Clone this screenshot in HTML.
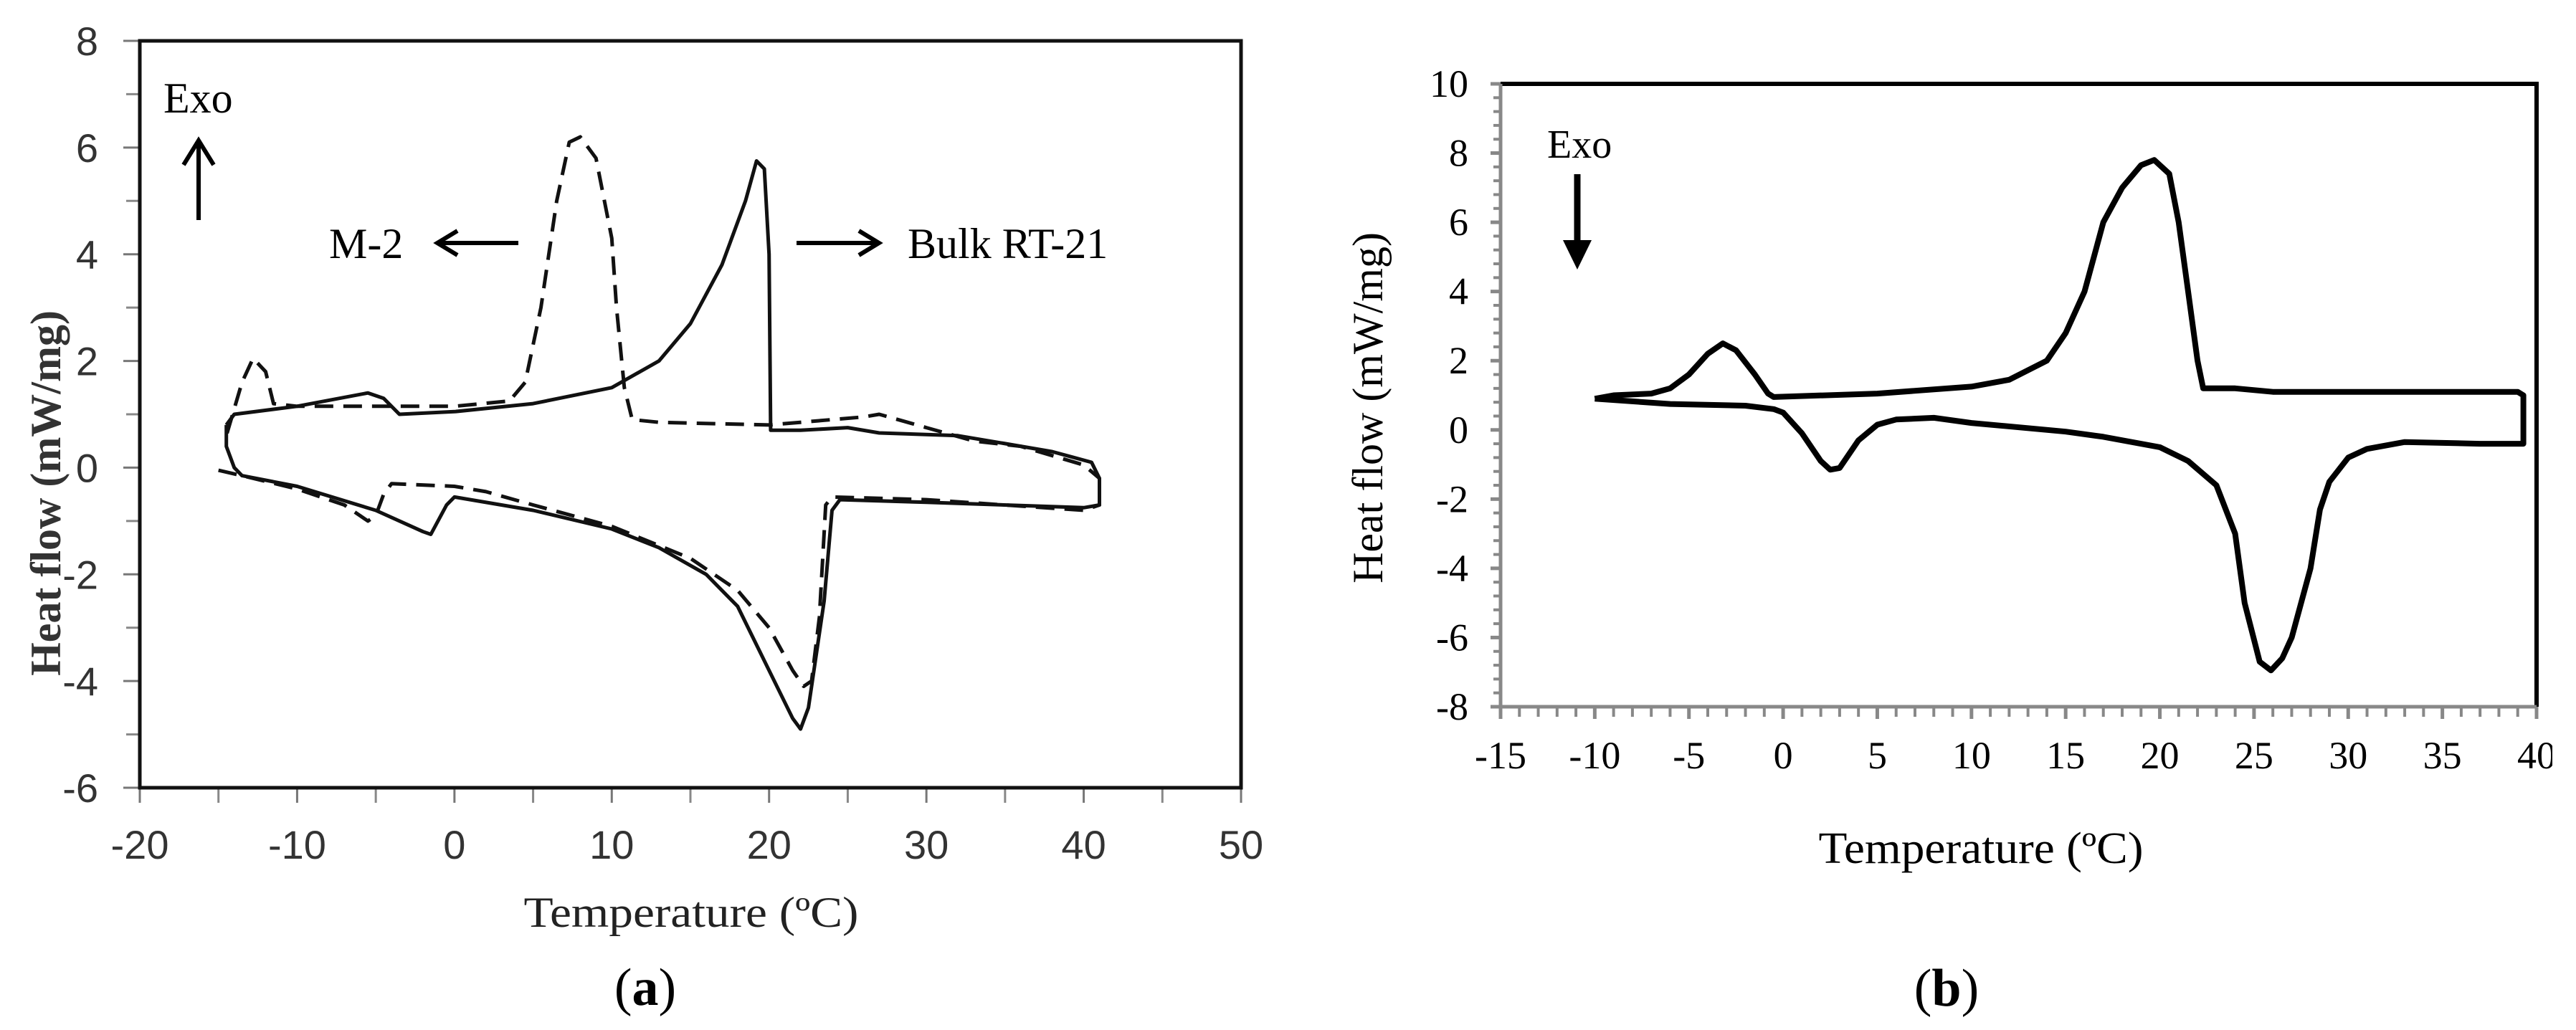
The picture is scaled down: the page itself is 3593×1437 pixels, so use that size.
<!DOCTYPE html>
<html><head><meta charset="utf-8"><style>
body{margin:0;background:#fff;}
svg{display:block;font-family:"Liberation Serif",serif;}
</style></head><body>
<svg id="fig" width="3593" height="1437" viewBox="0 0 3593 1437">
<g id="pa"></g>
<g id="pb"></g>
</svg>
<script>
// Panel (a) data
const aXTicks = [-20,-10,0,10,20,30,40,50];
const aYTicks = [-6,-4,-2,0,2,4,6,8];
const aBulkT = [-14.5,-14,-10,-5.5,-4.5,-3.5,0,5,10,13,15,17,18.5,19.2,19.7,20,20.1,22,25,27,32,35,38,40.5,41,41,40,30,24.5,24,23.5,22.5,22,21.5,20,18,16,13,10,5,0,-0.5,-1.5,-2,-5,-10,-13.5,-14,-14.5,-14.5];
const aBulkH = [0.8,1.0,1.15,1.4,1.3,1.0,1.05,1.2,1.5,2.0,2.7,3.8,5.0,5.75,5.6,4,0.7,0.7,0.75,0.65,0.6,0.45,0.3,0.1,-0.2,-0.7,-0.75,-0.65,-0.6,-0.8,-2.5,-4.5,-4.9,-4.7,-3.8,-2.6,-2.0,-1.5,-1.15,-0.8,-0.55,-0.7,-1.25,-1.2,-0.8,-0.35,-0.15,0,0.4,0.8];
const aM2T = [-15,-13.5,-10,-7,-5.5,-5,-4.5,-4,0,2,5,10,15,18,20,21.5,22.2,22.7,23.2,23.6,24,30,40,41,41,40,36,33,30,27,26,20,13,11.3,10.8,10.3,10,9,8,7.3,6.5,5.5,4.5,3.5,0,-5,-10,-11.5,-12,-12.8,-13.5,-14.5];
const aM2H = [-0.05,-0.15,-0.4,-0.7,-1.0,-0.9,-0.5,-0.3,-0.35,-0.45,-0.7,-1.1,-1.7,-2.3,-3.0,-3.8,-4.1,-4.0,-2.8,-0.7,-0.55,-0.6,-0.8,-0.7,-0.2,0.05,0.4,0.5,0.75,1.0,0.95,0.8,0.85,0.9,1.5,3,4.3,5.8,6.2,6.1,5,3,1.6,1.25,1.15,1.15,1.15,1.2,1.8,2.05,1.6,0.6];
// Panel (b) data
const bXTicks = [-15,-10,-5,0,5,10,15,20,25,30,35,40];
const bYTicks = [-8,-6,-4,-2,0,2,4,6,8,10];
const bT = [-10,-9,-7,-6,-5,-4,-3.2,-2.5,-1.5,-0.8,-0.5,5,10,12,14,15,16,17,18,19,19.7,20.5,21,21.5,22,22.3,24,26,30,39,39.3,39.3,37,33,31,30,29,28.5,28,27,26.5,25.9,25.3,24.5,24,23,21.5,20,17,15,10,8,6,5,4,3,2.5,2,1,0,-0.5,-2,-6,-10];
const bH = [0.9,1.0,1.05,1.2,1.6,2.2,2.5,2.3,1.6,1.05,0.95,1.05,1.25,1.45,2.0,2.8,4.0,6.0,7.0,7.65,7.8,7.4,6.0,4.0,2.0,1.2,1.2,1.1,1.1,1.1,1.0,-0.4,-0.4,-0.35,-0.55,-0.8,-1.5,-2.3,-4,-6.0,-6.6,-6.95,-6.7,-5.0,-3.0,-1.6,-0.9,-0.5,-0.2,-0.05,0.2,0.35,0.3,0.15,-0.3,-1.1,-1.15,-0.9,-0.1,0.5,0.6,0.7,0.75,0.9];

const NS="http://www.w3.org/2000/svg";
function mk(parent,tag,attrs,text){const e=document.createElementNS(NS,tag);for(const k in attrs)e.setAttribute(k,attrs[k]);if(text!==undefined)e.textContent=text;parent.appendChild(e);return e;}
function scale(d0,d1,r0,r1){return v=>r0+(v-d0)*(r1-r0)/(d1-d0);}
function path(xs,ys,sx,sy){return xs.map((v,i)=>(i?'L':'M')+sx(v).toFixed(1)+','+sy(ys[i]).toFixed(1)).join('');}

// ---- Panel a ----
const pa=document.getElementById('pa');
const ax=scale(-20,50,195,1731), ay=scale(8,-6,57,1099);
let e;
aYTicks.forEach(v=>{
  const t=mk(pa,'text',{x:137,y:ay(v)+20,'text-anchor':'end','font-size':56,fill:'#333','font-family':'Liberation Sans, sans-serif'},String(v));
  
  
  mk(pa,'line',{x1:172,x2:195,y1:ay(v),y2:ay(v),stroke:'#777','stroke-width':3});
  if(v<8) mk(pa,'line',{x1:176,x2:195,y1:ay(v+1),y2:ay(v+1),stroke:'#888','stroke-width':3});
});
aXTicks.forEach(v=>{
  const t=mk(pa,'text',{x:ax(v),y:1198,'text-anchor':'middle','font-size':56,fill:'#333','font-family':'Liberation Sans, sans-serif'},String(v));
  
  
  mk(pa,'line',{x1:ax(v),x2:ax(v),y1:1099,y2:1120,stroke:'#777','stroke-width':3});
  if(v<50) mk(pa,'line',{x1:ax(v+5),x2:ax(v+5),y1:1099,y2:1120,stroke:'#888','stroke-width':3});
});
e=mk(pa,'rect',{x:195,y:57,width:1536,height:1042,fill:'none',stroke:'#111','stroke-width':5});


e=mk(pa,'path',{d:path(aM2T,aM2H,ax,ay),fill:'none',stroke:'#111','stroke-width':5,'stroke-dasharray':'26 14','stroke-linejoin':'round'});


e=mk(pa,'path',{d:path(aBulkT,aBulkH,ax,ay),fill:'none',stroke:'#111','stroke-width':5,'stroke-linejoin':'round'});


e=mk(pa,'text',{x:228,y:157,'font-size':60},'Exo');


mk(pa,'line',{x1:277,x2:277,y1:198,y2:307,stroke:'#000','stroke-width':6});
mk(pa,'path',{d:'M256,230 L277,196 L298,230',fill:'none',stroke:'#000','stroke-width':6});
e=mk(pa,'text',{x:459,y:360,'font-size':60},'M-2');


mk(pa,'line',{x1:723,x2:610,y1:339,y2:339,stroke:'#000','stroke-width':6});
mk(pa,'path',{d:'M638,322 L610,339 L638,356',fill:'none',stroke:'#000','stroke-width':6});
mk(pa,'line',{x1:1111,x2:1226,y1:339,y2:339,stroke:'#000','stroke-width':6});
mk(pa,'path',{d:'M1198,322 L1226,339 L1198,356',fill:'none',stroke:'#000','stroke-width':6});
e=mk(pa,'text',{x:1266,y:360,'font-size':60},'Bulk RT-21');


e=mk(pa,'text',{x:964,y:1293,'text-anchor':'middle','font-size':60,fill:'#222',textLength:467,lengthAdjust:'spacingAndGlyphs'},'Temperature (ºC)');


e=mk(pa,'text',{x:0,y:0,'text-anchor':'middle','font-size':60,'font-weight':'bold',fill:'#333',transform:'translate(84,688) rotate(-90)'},'Heat flow (mW/mg)');


e=mk(pa,'text',{x:900,y:1402,'text-anchor':'middle','font-size':74},'');
mk(e,'tspan',{},'(');mk(e,'tspan',{'font-weight':'bold'},'a');mk(e,'tspan',{},')');



// ---- Panel b ----
const pb=document.getElementById('pb');
const bx=scale(-15,40,2093,3538), by=scale(10,-8,117,986);
bYTicks.forEach(v=>{
  const t=mk(pb,'text',{x:2048,y:by(v)+18,'text-anchor':'end','font-size':54},String(v));
  
  
  mk(pb,'line',{x1:2079,x2:2093,y1:by(v),y2:by(v),stroke:'#888','stroke-width':5});
  if(v<10) for(let k=1;k<5;k++) mk(pb,'line',{x1:2083,x2:2093,y1:by(v+k*0.4),y2:by(v+k*0.4),stroke:'#888','stroke-width':4});
});
bXTicks.forEach(v=>{
  const t=mk(pb,'text',{x:bx(v),y:1072,'text-anchor':'middle','font-size':54},String(v));
  
  
  mk(pb,'line',{x1:bx(v),x2:bx(v),y1:986,y2:1003,stroke:'#888','stroke-width':5});
  if(v<40) for(let k=1;k<5;k++) mk(pb,'line',{x1:bx(v+k),x2:bx(v+k),y1:986,y2:1000,stroke:'#888','stroke-width':4});
});
mk(pb,'rect',{x:3560,y:1020,width:40,height:70,fill:'#fff'});
mk(pb,'path',{d:'M2093,117 L3538,117 L3538,986',fill:'none',stroke:'#000','stroke-width':6});
e=mk(pb,'path',{d:'M2093,117 L2093,986 L3538,986',fill:'none',stroke:'#888','stroke-width':5});


e=mk(pb,'path',{d:path(bT,bH,bx,by),fill:'none',stroke:'#000','stroke-width':8,'stroke-linejoin':'round'});


e=mk(pb,'text',{x:2158,y:220,'font-size':56},'Exo');


mk(pb,'line',{x1:2200,x2:2200,y1:243,y2:345,stroke:'#000','stroke-width':9});
mk(pb,'path',{d:'M2180,335 L2200,376 L2220,335 Z',fill:'#000'});
e=mk(pb,'text',{x:2763,y:1204,'text-anchor':'middle','font-size':62,textLength:453,lengthAdjust:'spacingAndGlyphs'},'Temperature (ºC)');


e=mk(pb,'text',{x:0,y:0,'text-anchor':'middle','font-size':60,transform:'translate(1928,569) rotate(-90)'},'Heat flow (mW/mg)');


e=mk(pb,'text',{x:2715,y:1403,'text-anchor':'middle','font-size':74},'');
mk(e,'tspan',{},'(');mk(e,'tspan',{'font-weight':'bold'},'b');mk(e,'tspan',{},')');


</script>
</body></html>
